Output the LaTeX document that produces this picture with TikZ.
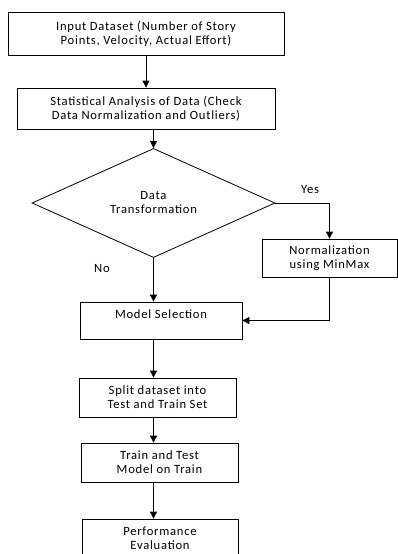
\documentclass[tikz,border=0pt]{standalone}
\usepackage{fontspec}
\setmainfont[LetterSpace=6]{Carlito}
\usetikzlibrary{shapes.geometric}
\usetikzlibrary{arrows.meta}
\usetikzlibrary{positioning}
\tikzset{>={Triangle[width=7pt,length=7pt]}}
\tikzset{
  block/.style={draw,line width=0.8pt,align=center,inner sep=2pt,font=\fontsize{12.6}{14}\selectfont},
  decision/.style={draw,diamond,line width=0.8pt,align=center,inner sep=0pt,minimum width=243pt,minimum height=66pt,font=\fontsize{12.6}{14}\selectfont},
  flow/.style={->,line width=0.9pt},
  tag/.style={font=\fontsize{12.6}{14}\selectfont}
}

\begin{document}
\begin{tikzpicture}[x=1pt,y=-1pt]
\useasboundingbox (0,0) rectangle (398,554);

% Boxes
\node[block,minimum width=276pt,minimum height=43pt] (input) at (146,33.5) {Input Dataset (Number of Story\\Points, Velocity, Actual Effort)};
\node[block,minimum width=258pt,minimum height=41pt] (stat) at (146,108.5) {Statistical Analysis of Data (Check\\Data Normalization and Outliers)};
\node[decision] (trans) at (153.5,203) {Data\\Transformation};
\node[block,minimum width=135pt,minimum height=38pt] (norm) at (329.5,258) {Normalization\\using MinMax};
\node[block,minimum width=162pt,minimum height=37pt,text depth=13pt] (model) at (161,320.5) {Model Selection};
\node[block,minimum width=157pt,minimum height=39pt] (split) at (157.5,397.5) {Split dataset into\\Test and Train Set};
\node[block,minimum width=157pt,minimum height=39pt] (train) at (159.5,462.5) {Train and Test\\Model on Train};
\node[block,minimum width=156pt,minimum height=39pt] (perf) at (160,538.5) {Performance\\Evaluation};

% Labels
\node[tag] (yes) at (310,190) {Yes};
\node[tag] (no) at (102,268) {No};

% Connectors
\draw[flow] (input) -- (stat);
\draw[flow] (trans.north |- stat.south) -- (trans.north);
\draw[flow] (trans.east) -| (norm.north);
\draw[flow] (norm.south) |- (model.east);
\draw[flow] (trans.south) -- (trans.south |- model.north);
\draw[flow] (trans.south |- model.south) -- (trans.south |- split.north);
\draw[flow] (trans.south |- split.south) -- (trans.south |- train.north);
\draw[flow] (trans.south |- train.south) -- (trans.south |- perf.north);

\end{tikzpicture}
\end{document}
